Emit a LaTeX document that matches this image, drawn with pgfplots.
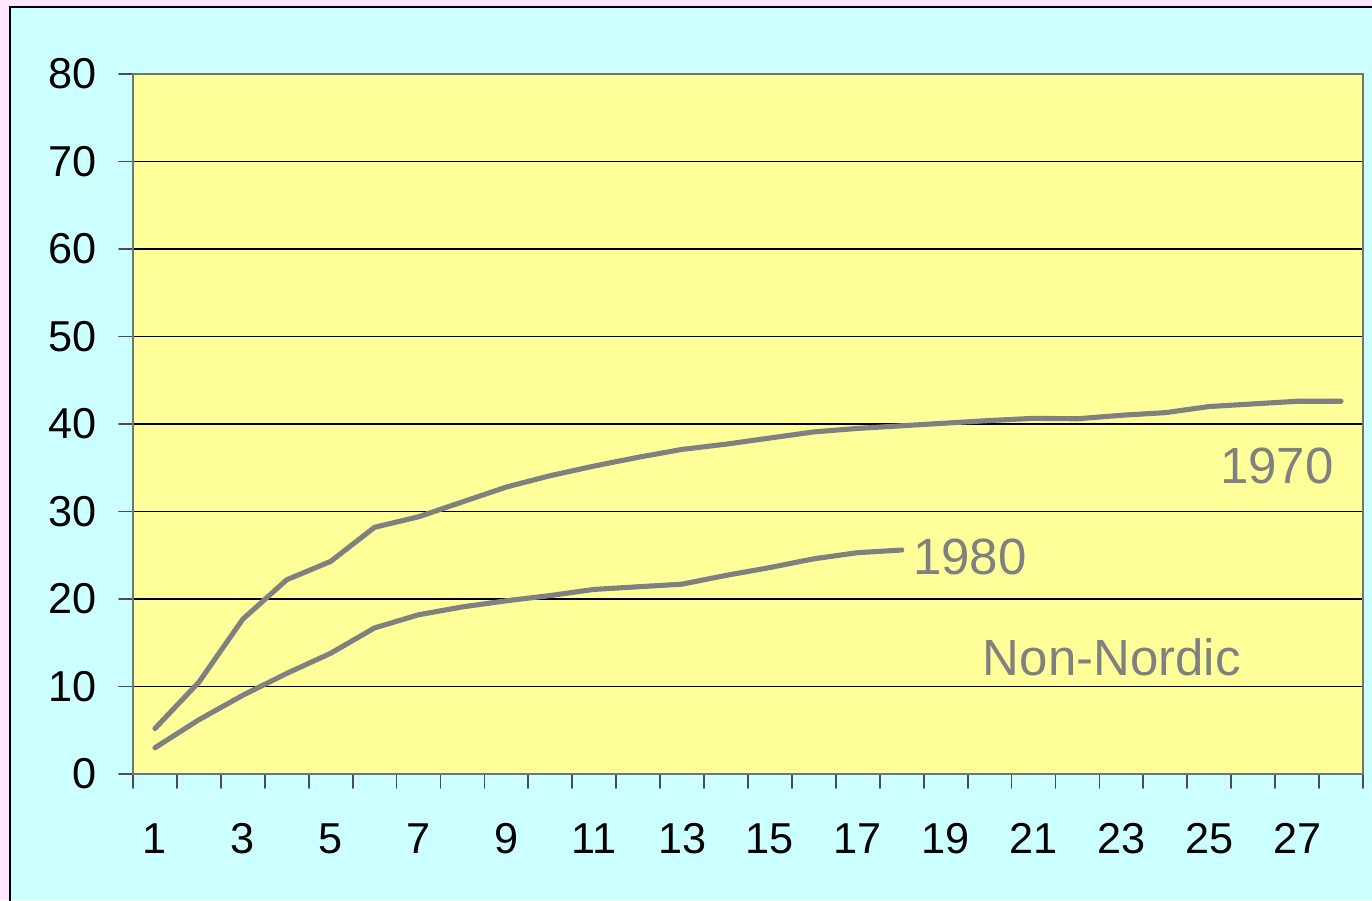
\documentclass[border=0pt]{standalone}
\usepackage{fontspec}
\setmainfont{Liberation Sans}
\usepackage{pgfplots}
\pgfplotsset{compat=1.18}
\definecolor{bgpink}{HTML}{FFE6FF}
\definecolor{bgcyan}{HTML}{CCFFFF}
\definecolor{plotyel}{HTML}{FFFF99}
\definecolor{linegray}{HTML}{808080}

\pgfplotstableread{
x y
1 5.2
2 10.5
3 17.7
4 22.2
5 24.3
6 28.2
7 29.4
8 31.1
9 32.8
10 34.1
11 35.2
12 36.2
13 37.1
14 37.7
15 38.4
16 39.1
17 39.5
18 39.8
19 40.1
20 40.4
21 40.65
22 40.6
23 41.0
24 41.3
25 42.0
26 42.3
27 42.6
28 42.6
}\seventy

\pgfplotstableread{
x y
1 3.0
2 6.2
3 9.0
4 11.5
5 13.8
6 16.7
7 18.2
8 19.1
9 19.8
10 20.4
11 21.1
12 21.4
13 21.7
14 22.7
15 23.6
16 24.6
17 25.3
18 25.6
}\eighty

\begin{document}
\begin{tikzpicture}
\useasboundingbox (-1.33cm,-1.26cm) rectangle (12.39cm,7.74cm);
\fill[bgpink] (-1.33cm,-1.26cm) rectangle (12.39cm,7.74cm);
\fill[bgcyan] (-1.23cm,-1.26cm) rectangle (12.39cm,7.67cm);
\draw[black, line width=0.6pt] (-1.23cm,-1.3cm) -- (-1.23cm,7.67cm) -- (12.45cm,7.67cm);
\begin{axis}[
    at={(0,0)}, anchor=south west,
    scale only axis,
    width=12.30cm, height=7.00cm,
    xmin=0.5, xmax=28.5,
    ymin=0, ymax=80,
    ytick={0,10,...,80},
    xtick={1,3,...,27},
    minor xtick={0.5,1.5,...,28.5},
    xtick pos=bottom, ytick pos=left,
    tick align=outside,
    major tick length=0.14cm,
    minor tick length=0.14cm,
    every major x tick/.append style={draw=none},
    tick style={black!70, line width=0.5pt},
    axis background/.style={fill=plotyel},
    axis line style={draw=black!55, line width=0.8pt},
    ymajorgrids,
    major grid style={black, line width=0.45pt},
    font=\fontsize{12.3}{14}\selectfont,
    /pgf/number format/assume math mode=true,
    yticklabel style={anchor=east, inner sep=0pt, xshift=-0.22cm},
    xticklabel style={anchor=north, inner sep=0pt, yshift=-0.35cm},
    line cap=round, line join=round,
]
\addplot[linegray, line width=1.45pt] table[x=x, y=y] {\seventy};
\addplot[linegray, line width=1.45pt] table[x=x, y=y] {\eighty};
\node[text=linegray, font=\fontsize{14.5}{16}\selectfont] at (axis cs:26.54,35.2) {1970};
\node[text=linegray, font=\fontsize{14.5}{16}\selectfont] at (axis cs:19.55,24.8) {1980};
\node[text=linegray, font=\fontsize{14.5}{16}\selectfont] at (axis cs:22.78,13.3) {Non-Nordic};
\end{axis}
\end{tikzpicture}
\end{document}
